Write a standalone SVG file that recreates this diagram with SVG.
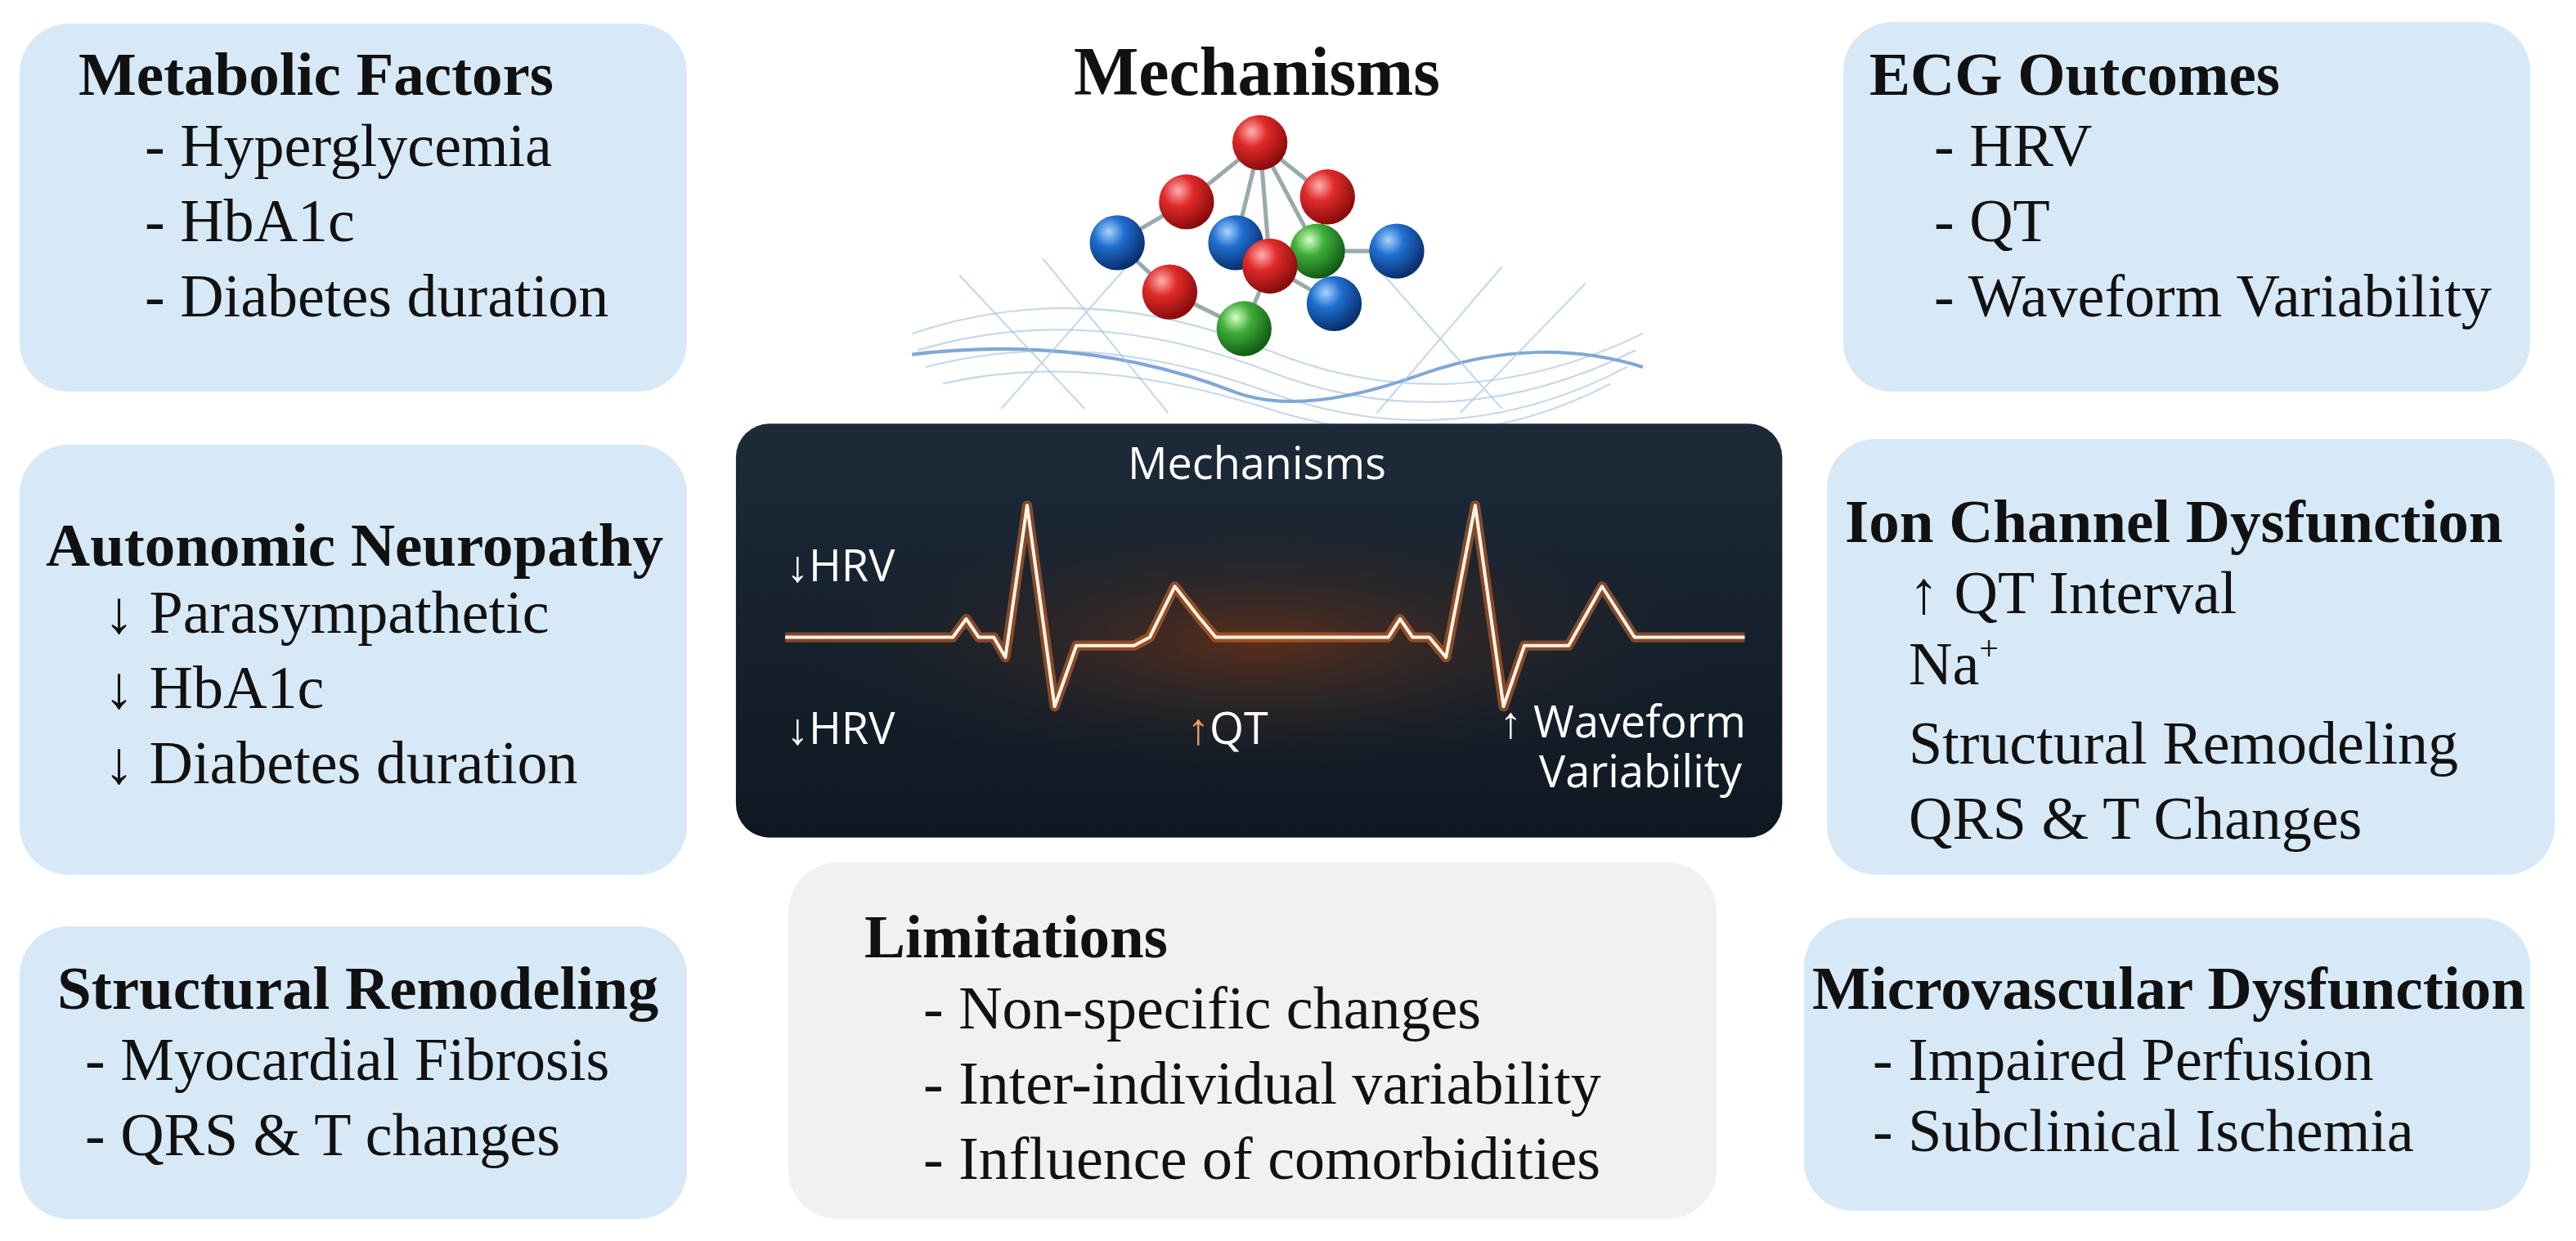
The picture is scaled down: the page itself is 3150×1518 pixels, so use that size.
<svg xmlns="http://www.w3.org/2000/svg" width="3150" height="1518" viewBox="0 0 3150 1518">
<style>
.box{fill:#d7e9f6}
.h{font-family:"Liberation Serif",serif;font-weight:bold;font-size:75px;fill:#111}
.t{font-family:"Liberation Serif",serif;font-size:74px;fill:#111}
.d{font-family:"Open Sans","Liberation Sans",sans-serif;fill:#fff;font-size:54px}
.mesh{fill:none;stroke:#a9c6e2;stroke-width:2;opacity:.7}
</style>
<defs>
<radialGradient id="r" cx="35%" cy="30%" r="70%"><stop offset="0" stop-color="#ffb0b0"/><stop offset=".4" stop-color="#e02a2a"/><stop offset="1" stop-color="#8a0c0c"/></radialGradient>
<radialGradient id="b" cx="35%" cy="30%" r="70%"><stop offset="0" stop-color="#a8d4ff"/><stop offset=".4" stop-color="#1f6fd0"/><stop offset="1" stop-color="#0a2f6e"/></radialGradient>
<radialGradient id="g" cx="35%" cy="30%" r="70%"><stop offset="0" stop-color="#d6ffc6"/><stop offset=".4" stop-color="#3fae3a"/><stop offset="1" stop-color="#135c17"/></radialGradient>
<radialGradient id="glow" cx="50%" cy="50%" r="50%"><stop offset="0" stop-color="#6a3216" stop-opacity=".8"/><stop offset="1" stop-color="#1a2430" stop-opacity="0"/></radialGradient>
<linearGradient id="dark" x1="0" y1="0" x2="0" y2="1"><stop offset="0" stop-color="#1d2a38"/><stop offset="1" stop-color="#0f1822"/></linearGradient>
</defs>
<rect width="3150" height="1518" fill="#fff"/>

<g id="metabolic"><rect class="box" x="24" y="29" width="816" height="450" rx="60"/>
<text class="h" x="96" y="116">Metabolic Factors</text>
<text class="t" x="177" y="203">- Hyperglycemia</text>
<text class="t" x="177" y="295">- HbA1c</text>
<text class="t" x="177" y="387">- Diabetes duration</text></g>

<g id="autonomic"><rect class="box" x="24" y="544" width="816" height="526" rx="60"/>
<text class="h" x="56" y="692">Autonomic Neuropathy</text>
<text class="t" x="127" y="774">↓ Parasympathetic</text>
<text class="t" x="127" y="866">↓ HbA1c</text>
<text class="t" x="127" y="958">↓ Diabetes duration</text></g>

<g id="structural"><rect class="box" x="24" y="1133" width="816" height="358" rx="60"/>
<text class="h" x="70" y="1234">Structural Remodeling</text>
<text class="t" x="104" y="1321">- Myocardial Fibrosis</text>
<text class="t" x="104" y="1413">- QRS &amp; T changes</text></g>

<g id="ecg-outcomes"><rect class="box" x="2254" y="27" width="840" height="452" rx="60"/>
<text class="h" x="2286" y="116">ECG Outcomes</text>
<text class="t" x="2365" y="203">- HRV</text>
<text class="t" x="2365" y="295">- QT</text>
<text class="t" x="2365" y="387">- Waveform Variability</text></g>

<g id="ion"><rect class="box" x="2234" y="537" width="890" height="533" rx="60"/>
<text class="h" x="2256" y="663">Ion Channel Dysfunction</text>
<text class="t" x="2334" y="750">↑ QT Interval</text>
<text class="t" x="2334" y="837">Na<tspan font-size="42" dy="-30">+</tspan></text>
<text class="t" x="2334" y="934">Structural Remodeling</text>
<text class="t" x="2334" y="1026">QRS &amp; T Changes</text></g>

<g id="microvascular"><rect class="box" x="2206" y="1123" width="888" height="358" rx="60"/>
<text class="h" x="2216" y="1234" textLength="872" lengthAdjust="spacingAndGlyphs">Microvascular Dysfunction</text>
<text class="t" x="2290" y="1321">- Impaired Perfusion</text>
<text class="t" x="2290" y="1408">- Subclinical Ischemia</text></g>

<g id="limitations"><rect x="964" y="1055" width="1135" height="436" rx="60" fill="#f1f1f1"/>
<text class="h" x="1057" y="1171">Limitations</text>
<text class="t" x="1129" y="1258">- Non-specific changes</text>
<text class="t" x="1129" y="1350">- Inter-individual variability</text>
<text class="t" x="1129" y="1442">- Influence of comorbidities</text></g>

<g id="title"><text x="1537" y="116" text-anchor="middle" style="font-family:'Liberation Serif',serif;font-weight:bold;font-size:84px;fill:#111">Mechanisms</text></g>

<g transform="scale(1.0203)">
<g id="molecule">
<path class="mesh" d="M1093 400 Q1300 330 1520 420 T1969 400"/>
<path class="mesh" d="M1100 420 Q1300 360 1520 445 T1960 420"/>
<path class="mesh" d="M1110 440 Q1300 390 1520 470 T1950 440"/>
<path class="mesh" d="M1130 460 Q1300 420 1520 490 T1930 460"/>
<path d="M1093 425 Q1300 400 1480 470 Q1560 500 1700 450 T1969 440" fill="none" stroke="#7fa8d6" stroke-width="4"/>
<path class="mesh" d="M1150 330 L1300 490 M1250 310 L1400 495 M1650 495 L1800 320 M1750 495 L1900 340 M1200 490 L1350 320 M1800 490 L1650 320"/>
<g stroke="#9aa" stroke-width="5" fill="none">
<path d="M1510 171 L1422 242 M1510 171 L1591 236 M1510 171 L1481 291 M1510 171 L1522 319 M1510 171 L1579 301 M1422 242 L1339 291 M1339 291 L1402 350 M1481 291 L1522 319 M1579 301 L1674 301 M1579 301 L1599 364 M1402 350 L1491 394 M1491 394 L1522 319 M1522 319 L1599 364 M1591 236 L1579 301"/>
</g>
<circle cx="1510" cy="171" r="33" fill="url(#r)"/>
<circle cx="1422" cy="242" r="33" fill="url(#r)"/>
<circle cx="1591" cy="236" r="33" fill="url(#r)"/>
<circle cx="1339" cy="291" r="33" fill="url(#b)"/>
<circle cx="1481" cy="291" r="33" fill="url(#b)"/>
<circle cx="1674" cy="301" r="33" fill="url(#b)"/>
<circle cx="1579" cy="301" r="33" fill="url(#g)"/>
<circle cx="1522" cy="319" r="33" fill="url(#r)"/>
<circle cx="1402" cy="350" r="33" fill="url(#r)"/>
<circle cx="1599" cy="364" r="33" fill="url(#b)"/>
<circle cx="1491" cy="394" r="33" fill="url(#g)"/>
</g>
<g id="ecg-panel-bg">
<rect x="882" y="508" width="1254" height="496" rx="40" fill="url(#dark)"/>
<ellipse cx="1510" cy="770" rx="560" ry="170" fill="url(#glow)"/>
<path d="M941 764 L1142 764 L1158 742 L1173 764 L1191 764 L1205 788 L1231 606 L1264 847 L1290 774 L1359 774 L1378 764 L1408 703 L1437 740 L1457 764 L1664 764 L1678 742 L1693 764 L1713 764 L1733 788 L1768 606 L1802 847 L1827 774 L1880 774 L1920 703 L1959 764 L2091 764" fill="none" stroke="#ff7a2a" stroke-width="12" stroke-opacity=".45" stroke-linejoin="round"/>
<path d="M941 764 L1142 764 L1158 742 L1173 764 L1191 764 L1205 788 L1231 606 L1264 847 L1290 774 L1359 774 L1378 764 L1408 703 L1437 740 L1457 764 L1664 764 L1678 742 L1693 764 L1713 764 L1733 788 L1768 606 L1802 847 L1827 774 L1880 774 L1920 703 L1959 764 L2091 764" fill="none" stroke="#fff1e0" stroke-width="4" stroke-linejoin="round"/>
</g>
</g>
<g id="ecg-panel-text">
<text class="d" x="1537" y="586" text-anchor="middle" font-size="60">Mechanisms</text>
<text class="d" x="962" y="711">↓HRV</text>
<text class="d" x="962" y="910">↓HRV</text>
<text class="d" x="1452" y="910"><tspan fill="#f5a060">↑</tspan>QT</text>
<text class="d" x="1834" y="902" font-size="44">↑ Waveform</text>
<text class="d" x="1882" y="963" font-size="44">Variability</text>
</g>
<g id="connectors"/>
</svg>
